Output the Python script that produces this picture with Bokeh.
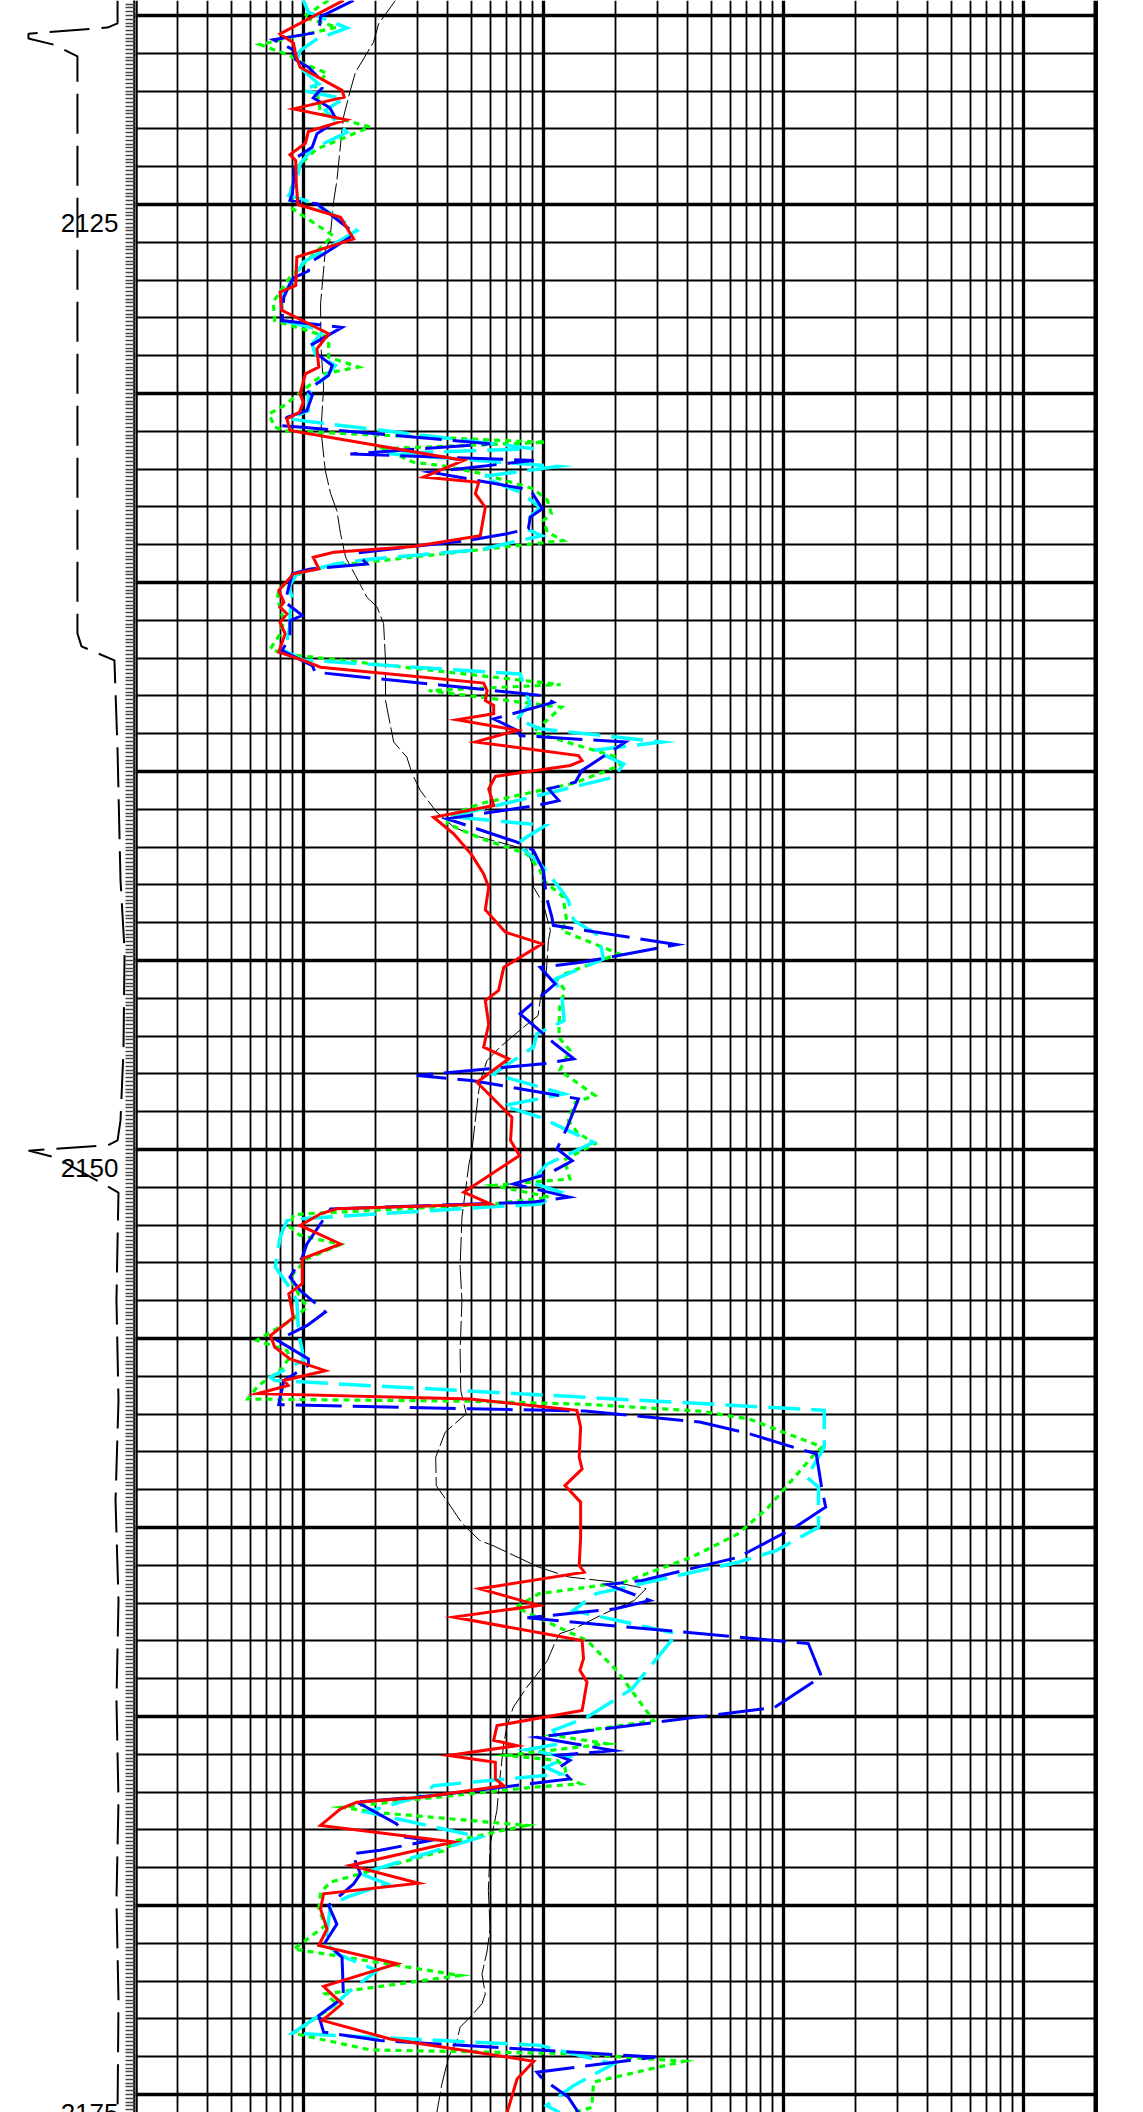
import numpy as np
from bokeh.plotting import figure
from bokeh.layouts import row
from bokeh.models import Range1d, FixedTicker, Span
from bokeh.core.properties import value
from bokeh.embed import file_html
from bokeh.resources import INLINE

# ---------------- data (depth in m, resistivity in ohm.m) ----------------
RED_DEPTH = [2119.60, 2120.49, 2120.73, 2121.10, 2121.37, 2121.98, 2122.16, 2122.47, 2122.76, 2123.07,
             2123.38, 2123.68, 2123.84, 2124.45, 2125.00, 2125.34, 2125.91, 2126.39, 2127.14, 2127.32,
             2127.80, 2128.42, 2128.82, 2129.30, 2129.48, 2130.01, 2130.23, 2130.49, 2130.67, 2130.98,
             2131.77, 2132.21, 2132.35, 2132.65, 2133.01, 2133.76, 2134.05, 2134.20, 2134.33, 2134.64,
             2134.77, 2135.21, 2135.52, 2135.65, 2135.83, 2136.05, 2136.36, 2136.84, 2137.06, 2137.24,
             2137.66, 2137.86, 2138.12, 2138.25, 2138.47, 2138.63, 2138.91, 2139.22, 2139.58, 2139.71,
             2139.84, 2140.13, 2140.46, 2140.90, 2141.21, 2141.65, 2142.18, 2142.71, 2143.06, 2143.66,
             2144.25, 2144.56, 2145.18, 2145.79, 2146.06, 2146.68, 2147.29, 2147.60, 2148.22, 2149.15,
             2149.76, 2150.16, 2151.13, 2151.44, 2151.57, 2151.70, 2152.01, 2152.50, 2152.89, 2153.55,
             2153.82, 2154.44, 2154.92, 2155.23, 2155.54, 2155.85, 2156.11, 2156.24, 2156.46, 2156.60,
             2156.90, 2157.35, 2158.14, 2158.45, 2158.89, 2159.33, 2160.26, 2161.00, 2161.18, 2161.62,
             2162.06, 2162.37, 2162.99, 2163.47, 2163.78, 2164.09, 2164.84, 2165.24, 2165.63, 2165.77,
             2166.03, 2166.21, 2166.65, 2166.83, 2167.13, 2167.27, 2167.44, 2167.88, 2168.32, 2168.94,
             2169.41, 2169.69, 2170.09, 2170.62, 2171.06, 2171.54, 2172.14, 2172.60, 2173.04, 2173.53,
             2174.12, 2174.59, 2175.48]
RED_VAL = [1.47, 0.80, 0.91, 0.935, 0.97, 1.45, 1.48, 0.91, 1.51, 1.05,
           1.02, 0.88, 0.93, 0.935, 0.95, 1.43, 1.62, 0.94, 0.93, 0.80,
           0.815, 1.275, 1.14, 1.16, 1.02, 0.97, 1.00, 0.965, 0.855, 0.88,
           4.66, 3.17, 5.38, 5.21, 5.73, 5.46, 2.88, 1.34, 1.10, 1.16,
           0.91, 0.79, 0.83, 0.80, 0.855, 0.80, 0.84, 0.79, 1.00, 1.18,
           5.64, 5.83, 5.73, 6.21, 6.21, 4.37, 7.77, 5.21, 14.0, 14.5,
           12.96, 6.31, 5.92, 6.21, 3.49, 4.23, 5.0, 5.64, 5.92, 5.73,
           6.95, 9.87, 6.84, 6.51, 5.73, 5.92, 5.64, 7.17, 5.29, 7.40,
           7.30, 7.95, 4.66, 6.01, 1.38, 1.18, 0.97, 1.43, 0.99, 0.99,
           0.87, 0.91, 0.73, 0.76, 0.88, 1.235, 0.83, 0.865, 0.645, 4.95,
           13.8, 14.3, 14.1, 14.5, 12.3, 14.3, 14.3, 14.1, 14.8, 5.42,
           9.58, 4.23, 14.5, 14.7, 14.2, 15.2, 14.5, 6.41, 6.21, 7.77,
           4.03, 6.31, 6.31, 6.84, 3.17, 1.67, 1.43, 1.18, 4.23, 1.57,
           3.02, 1.215, 1.18, 1.255, 1.16, 2.46, 1.215, 1.45, 1.20, 2.30,
           9.12, 7.77, 7.06]

BLUE_DEPTH = [2119.60, 2120.03, 2120.44, 2120.64, 2120.91, 2121.17, 2121.37, 2121.70, 2121.91, 2122.18,
              2122.44, 2122.78, 2123.13, 2123.48, 2123.77, 2124.72, 2124.89, 2124.98, 2125.78, 2126.53,
              2126.76, 2126.94, 2127.10, 2127.45, 2128.07, 2128.25, 2128.73, 2128.95, 2129.26, 2129.52,
              2129.92, 2130.05, 2130.45, 2130.63, 2130.85, 2130.89, 2131.33, 2131.60, 2131.77, 2132.08,
              2132.55, 2133.05, 2133.27, 2133.58, 2133.71, 2133.89, 2134.22, 2134.51, 2134.64, 2134.77,
              2135.12, 2135.52, 2135.87, 2136.01, 2136.36, 2136.58, 2136.80, 2137.20, 2137.37, 2137.46,
              2137.99, 2138.17, 2138.61, 2138.91, 2139.05, 2139.22, 2139.97, 2140.28, 2140.46, 2140.77,
              2140.90, 2141.25, 2141.87, 2142.09, 2142.62, 2143.32, 2143.85, 2144.07, 2144.58, 2145.04,
              2145.18, 2145.62, 2146.41, 2147.21, 2147.60, 2147.73, 2148.04, 2148.18, 2148.66, 2149.45,
              2149.98, 2150.30, 2150.64, 2150.91, 2151.26, 2151.39, 2151.57, 2152.50, 2152.85, 2153.38,
              2153.73, 2153.91, 2154.30, 2154.66, 2154.79, 2155.05, 2155.54, 2155.71, 2156.11, 2156.75,
              2156.86, 2156.92, 2157.21, 2157.52, 2157.92, 2158.05, 2159.02, 2159.46, 2159.99, 2160.79,
              2161.40, 2161.51, 2161.93, 2162.15, 2162.39, 2163.07, 2163.94, 2164.76, 2165.55, 2165.90,
              2166.03, 2166.16, 2166.34, 2166.65, 2167.09, 2167.27, 2167.31, 2167.84, 2168.19, 2168.28,
              2168.54, 2168.63, 2169.16, 2169.43, 2170.00, 2170.49, 2170.97, 2171.37, 2172.43, 2172.91,
              2173.35, 2173.57, 2174.01, 2174.41, 2174.58, 2175.07, 2175.48]
BLUE_VAL = [1.62, 1.18, 1.16, 0.75, 0.91, 0.93, 1.05, 1.18, 1.20, 1.10,
            1.29, 1.38, 1.14, 1.09, 0.93, 0.90, 0.88, 1.14, 1.65, 1.07,
            1.05, 0.91, 0.88, 0.83, 0.815, 1.45, 1.07, 1.14, 1.32, 1.275,
            1.035, 1.09, 1.035, 0.855, 0.80, 0.99, 6.01, 1.57, 9.12, 3.39,
            8.82, 9.9, 8.82, 8.66, 7.06, 4.8, 1.67, 1.84, 1.07, 0.90,
            0.87, 0.84, 0.99, 0.88, 0.88, 0.855, 0.815, 1.09, 1.12, 1.52,
            9.87, 11.0, 6.21, 7.77, 8.0, 22.0, 14.5, 13.6, 10.5, 11.6,
            9.4, 3.97, 7.77, 9.1, 10.0, 10.3, 10.85, 11.0, 36.0, 14.7,
            9.7, 11.2, 8.0, 11.2, 13.4, 10.0, 2.97, 5.1, 14.0, 12.5,
            11.4, 13.2, 10.5, 7.5, 12.8, 9.1, 1.30, 1.035, 0.99, 0.88,
            0.97, 1.05, 1.235, 1.035, 0.94, 0.78, 1.05, 1.05, 0.83, 0.79,
            4.95, 14.9, 44.8, 72.2, 116, 137, 145, 150, 112, 64.7,
            25.8, 18.5, 27.8, 20.0, 8.58, 127, 144, 91.7, 9.4, 19.6,
            11.4, 12.9, 11.7, 12.9, 3.49, 1.62, 1.73, 2.45, 2.66, 3.38,
            2.09, 1.60, 1.73, 1.62, 1.275, 1.38, 1.235, 1.45, 1.47, 1.16,
            1.215, 2.09, 29.3, 9.4, 9.9, 12.7, 14.0]

CYAN_DEPTH = [2119.60, 2119.91, 2120.33, 2120.62, 2120.93, 2121.28, 2121.81, 2121.98, 2122.20, 2122.51,
              2122.78, 2123.09, 2123.53, 2123.92, 2124.37, 2124.76, 2124.89, 2125.25, 2125.69, 2126.53,
              2127.10, 2127.45, 2128.07, 2128.33, 2128.69, 2128.95, 2129.26, 2129.52, 2130.01, 2130.45,
              2130.67, 2130.74, 2131.46, 2131.59, 2131.93, 2132.20, 2132.61, 2133.01, 2133.27, 2133.58,
              2133.76, 2134.13, 2134.39, 2134.51, 2134.77, 2135.12, 2135.39, 2135.83, 2136.14, 2136.53,
              2136.80, 2137.05, 2137.42, 2138.21, 2138.61, 2138.87, 2139.22, 2139.44, 2139.80, 2140.15,
              2140.77, 2141.19, 2141.43, 2141.74, 2141.91, 2142.44, 2143.15, 2143.41, 2143.94, 2144.34,
              2144.96, 2145.49, 2146.06, 2146.59, 2146.94, 2147.29, 2148.00, 2148.53, 2148.84, 2149.15,
              2149.81, 2150.20, 2150.38, 2150.86, 2151.13, 2151.44, 2151.83, 2151.88, 2152.32, 2153.11,
              2153.55, 2154.00, 2154.83, 2155.32, 2155.58, 2156.02, 2156.11, 2156.90, 2157.87, 2158.67,
              2158.93, 2159.99, 2160.61, 2160.92, 2161.75, 2162.20, 2162.81, 2164.27, 2165.02, 2165.37,
              2165.72, 2165.88, 2166.08, 2166.34, 2166.52, 2166.83, 2167.09, 2167.53, 2168.19, 2169.16,
              2169.43, 2169.78, 2170.00, 2170.97, 2171.28, 2171.72, 2172.25, 2172.65, 2173.38, 2173.70,
              2174.19, 2174.76, 2175.29, 2175.48]
CYAN_VAL = [1.00, 1.05, 1.52, 1.14, 0.97, 0.93, 1.16, 0.99, 1.47, 1.235,
            1.36, 1.52, 1.09, 0.97, 0.94, 0.87, 1.02, 1.32, 1.67, 1.00,
            0.88, 0.815, 0.815, 1.215, 1.09, 1.12, 1.36, 1.255, 1.05, 1.05,
            0.88, 1.05, 9.12, 2.23, 11.4, 5.55, 8.0, 9.7, 8.8, 8.5,
            9.85, 5.46, 1.84, 1.36, 0.94, 0.87, 0.90, 0.88, 0.88, 0.855,
            0.83, 1.00, 8.0, 8.8, 7.77, 9.7, 31.0, 16.2, 21.6, 19.7,
            7.77, 4.1, 10.2, 8.5, 7.77, 9.7, 11.9, 12.7, 13.4, 17.0,
            17.8, 11.2, 12.0, 12.2, 9.4, 9.1, 6.2, 12.2, 6.8, 9.7,
            16.2, 12.0, 10.4, 8.8, 11.8, 9.7, 0.97, 0.855, 0.80, 0.765,
            0.855, 0.94, 0.955, 0.99, 1.00, 0.73, 0.76, 148, 148, 125,
            140, 140, 93.3, 64.7, 16.6, 13.3, 36.0, 23.4, 15.2, 11.0,
            11.8, 8.5, 12.7, 10.2, 11.8, 3.49, 3.12, 1.84, 5.46, 1.73,
            2.23, 1.52, 1.30, 1.235, 1.38, 2.03, 1.57, 1.34, 0.90, 9.7,
            19.6, 13.4, 10.3, 11.7]

GREEN_DEPTH = [2119.60, 2120.04, 2120.31, 2120.77, 2121.06, 2121.23, 2121.53, 2121.85, 2122.25, 2122.60,
               2122.95, 2123.53, 2124.01, 2124.72, 2125.11, 2125.82, 2126.92, 2127.58, 2128.07, 2128.51,
               2129.04, 2129.30, 2129.48, 2130.01, 2130.32, 2130.54, 2130.89, 2130.99, 2131.29, 2131.46,
               2131.82, 2131.90, 2132.11, 2132.52, 2132.83, 2133.18, 2133.36, 2133.67, 2133.89, 2134.59,
               2134.73, 2135.17, 2135.43, 2136.01, 2136.36, 2136.75, 2136.89, 2137.70, 2137.86, 2138.30,
               2138.96, 2139.62, 2139.84, 2140.31, 2140.50, 2140.85, 2141.16, 2141.38, 2141.78, 2142.18,
               2142.62, 2142.88, 2143.32, 2143.94, 2144.21, 2144.82, 2145.35, 2145.49, 2145.79, 2146.23,
               2147.03, 2147.38, 2147.91, 2148.57, 2148.75, 2149.23, 2149.54, 2149.85, 2150.29, 2150.47,
               2150.78, 2150.95, 2151.26, 2151.44, 2151.72, 2152.05, 2152.27, 2152.51, 2152.89, 2153.38,
               2153.82, 2154.17, 2154.48, 2155.05, 2155.32, 2155.49, 2155.85, 2156.24, 2156.60, 2156.66,
               2156.74, 2156.92, 2157.13, 2157.87, 2158.10, 2159.46, 2160.17, 2160.78, 2161.45, 2161.75,
               2162.11, 2162.99, 2163.78, 2165.11, 2165.50, 2165.72, 2166.03, 2166.16, 2166.34, 2166.61,
               2166.78, 2166.87, 2167.40, 2167.53, 2167.88, 2168.28, 2168.55, 2169.38, 2169.65, 2170.09,
               2170.53, 2170.97, 2171.15, 2171.85, 2172.34, 2172.60, 2173.38, 2173.82, 2173.92, 2174.12,
               2174.67, 2175.34, 2175.48]
GREEN_VAL = [1.27, 1.00, 1.38, 0.66, 0.88, 0.97, 1.255, 1.12, 1.16, 1.18,
             1.90, 1.14, 0.94, 0.88, 0.90, 1.33, 0.88, 0.75, 0.76, 1.275,
             1.275, 1.70, 1.215, 0.955, 0.83, 0.72, 0.76, 0.84, 10.2, 2.16,
             2.88, 3.72, 5.46, 9.1, 10.4, 10.8, 10.0, 10.4, 12.1, 1.215,
             0.99, 0.79, 0.78, 0.83, 0.80, 0.73, 0.83, 11.8, 3.33, 11.9,
             9.1, 20.3, 20.9, 13.4, 9.7, 5.46, 4.1, 3.97, 5.55, 8.55,
             9.7, 10.0, 12.1, 12.5, 11.9, 20.6, 12.3, 11.4, 12.3, 11.7,
             11.6, 12.9, 11.7, 16.4, 13.6, 12.7, 13.8, 16.4, 12.1, 12.5,
             12.9, 6.2, 10.6, 6.2, 0.91, 0.88, 0.97, 1.43, 1.035, 0.88,
             0.955, 1.035, 0.91, 0.64, 0.855, 0.88, 0.80, 0.65, 0.588, 4.95,
             14.9, 44.8, 72.0, 145, 133, 86.7, 64.7, 41.6, 21.5, 9.6,
             7.69, 15.2, 20.2, 28.8, 11.0, 18.4, 7.06, 11.4, 12.3, 12.5,
             14.3, 9.1, 1.45, 1.96, 8.5, 4.37, 3.84, 1.30, 1.18, 1.16,
             1.235, 1.00, 0.91, 4.5, 1.235, 1.38, 0.91, 1.90, 13.4, 38.5,
             16.2, 15.9, 13.4]

BLACK_DEPTH = [2119.60, 2120.22, 2120.71, 2121.50, 2121.98, 2122.69, 2123.40, 2124.37, 2124.89, 2125.95,
               2126.22, 2127.63, 2128.77, 2129.83, 2130.98, 2132.04, 2132.65, 2133.10, 2133.71, 2134.33,
               2134.82, 2135.39, 2135.65, 2136.09, 2137.06, 2138.12, 2138.56, 2139.22, 2139.62, 2140.06,
               2140.50, 2141.08, 2141.47, 2141.69, 2141.83, 2142.07, 2142.44, 2143.06, 2143.50, 2144.21,
               2144.47, 2145.26, 2146.06, 2146.46, 2146.76, 2147.29, 2147.65, 2148.18, 2148.53, 2149.59,
               2150.03, 2150.38, 2151.79, 2153.11, 2153.99, 2155.32, 2156.38, 2156.99, 2157.48, 2158.14,
               2158.89, 2159.37, 2159.90, 2160.34, 2160.48, 2161.05, 2161.31, 2161.45, 2161.62, 2161.93,
               2162.28, 2162.68, 2162.81, 2163.03, 2163.52, 2164.00, 2164.22, 2164.75, 2165.24, 2165.72,
               2166.60, 2167.49, 2168.37, 2169.60, 2170.62, 2171.23, 2171.81, 2172.34, 2172.60, 2172.95,
               2173.22, 2173.57, 2174.01, 2174.72, 2175.48]
BLACK_VAL = [2.42, 2.06, 1.96, 1.65, 1.57, 1.47, 1.43, 1.38, 1.34, 1.29,
             1.235, 1.18, 1.185, 1.215, 1.185, 1.235, 1.30, 1.38, 1.43, 1.50,
             1.65, 1.84, 2.03, 2.16, 2.20, 2.20, 2.27, 2.38, 2.70, 2.84,
             3.07, 3.60, 4.23, 5.13, 6.20, 8.55, 8.97, 9.10, 10.0, 10.7,
             10.5, 10.3, 9.7, 9.5, 8.28, 6.6, 5.82, 5.47, 5.36, 5.13,
             5.04, 4.9, 4.58, 4.50, 4.58, 4.50, 4.53, 4.77, 3.90, 3.56,
             3.58, 4.04, 4.60, 5.42, 6.17, 9.58, 12.8, 20.0, 26.8, 23.9,
             17.9, 13.4, 11.7, 11.2, 10.4, 9.1, 8.55, 7.5, 7.06, 6.84,
             6.6, 6.4, 6.01, 5.9, 6.0, 5.82, 5.55, 5.73, 5.55, 4.96,
             4.5, 4.37, 4.03, 3.78, 3.6]

# curve of the depth track (linear scale 6 .. 16)
CAL_DEPTH = [2119.60, 2120.21, 2120.32, 2120.48, 2120.61, 2120.77, 2121.08, 2136.35, 2136.69, 2137.06,
             2139.44, 2142.88, 2144.74, 2147.38, 2149.23, 2149.76, 2149.89, 2150.03, 2150.21, 2150.87,
             2151.14, 2152.41, 2153.99, 2156.64, 2159.29, 2161.93, 2164.58, 2167.22, 2169.87, 2172.51,
             2175.48]
CAL_VAL = [14.67, 14.67, 13.93, 8.07, 8.07, 9.93, 11.70, 11.70, 12.00, 14.44,
           14.67, 14.89, 15.19, 15.11, 14.89, 14.67, 13.93, 8.07, 10.07, 13.41,
           14.74, 14.67, 14.59, 14.74, 14.52, 14.74, 14.59, 14.74, 14.59, 14.74,
           14.67]

DEPTH_LABELS = [2125, 2150, 2175]
X_DECADES = [1, 10, 100, 1000]
X_MINOR = [m * 10.0 ** e for e in range(-1, 3) for m in range(2, 10)]
Y_MAJOR = list(range(2120, 2180, 5))
Y_MINOR = list(range(2119, 2177))
Y_TICKS_01 = [round(v, 1) for v in np.arange(2119.6, 2175.55, 0.1)]

# ---------------- layout constants ----------------
D_TOP, D_BOTTOM = 2119.603, 2175.476
X_LO, X_HI = 0.2, 2053.5
CAL_LO, CAL_HI = 6.0, 16.0
FRAME_H = 2112

# ---------------- depth track ----------------
dep = figure(frame_width=135, frame_height=FRAME_H, x_range=Range1d(CAL_LO, CAL_HI),
             y_range=Range1d(D_BOTTOM, D_TOP), x_axis_location=None, y_axis_location="right",
             toolbar_location=None, output_backend="svg", min_border=0,
             outline_line_color=None)
dep.grid.visible = False
ax = dep.yaxis[0]
ax.ticker = FixedTicker(ticks=[], minor_ticks=Y_TICKS_01)
ax.major_label_standoff = 0
ax.major_tick_out = 0
ax.minor_tick_out = 0
ax.major_tick_in = 10
ax.minor_tick_in = 10
ax.major_tick_line_color = "#444444"
ax.minor_tick_line_color = "#444444"
ax.major_tick_line_width = 1.5
ax.minor_tick_line_width = 1.5
ax.axis_line_width = 4.5
ax.axis_line_color = "black"

dep.text(x=[CAL_HI] * len(DEPTH_LABELS), y=DEPTH_LABELS, text=[str(d) for d in DEPTH_LABELS],
         text_align="right", text_baseline="middle", x_offset=-17, y_offset=18,
         text_font=value("Liberation Sans"), text_font_size="26px", text_color="black")
dep.line(CAL_VAL, CAL_DEPTH, line_color="black", line_width=2, line_dash="40 12")

# ---------------- main (log) track ----------------
p = figure(frame_width=963, frame_height=FRAME_H, x_axis_type="log",
           x_range=Range1d(X_LO, X_HI), y_range=Range1d(D_BOTTOM, D_TOP),
           x_axis_location=None, y_axis_location=None,
           toolbar_location=None, output_backend="svg", min_border=0,
           outline_line_color=None)
p.xgrid.ticker = FixedTicker(ticks=X_DECADES, minor_ticks=X_MINOR)
p.xgrid.grid_line_color = "black"
p.xgrid.grid_line_width = 3.3
p.xgrid.grid_line_alpha = 1
p.xgrid.minor_grid_line_color = "black"
p.xgrid.minor_grid_line_width = 1.8
p.ygrid.ticker = FixedTicker(ticks=Y_MAJOR, minor_ticks=Y_MINOR)
p.ygrid.grid_line_color = "black"
p.ygrid.grid_line_width = 3.3
p.ygrid.grid_line_alpha = 1
p.ygrid.minor_grid_line_color = "black"
p.ygrid.minor_grid_line_width = 1.8

p.add_layout(Span(location=X_LO, dimension="height", line_color="black", line_width=4.5))
p.add_layout(Span(location=2000, dimension="height", line_color="black", line_width=4.5))

p.line(BLACK_VAL, BLACK_DEPTH, line_color="black", line_width=1, line_dash="24 4")
p.line(GREEN_VAL, GREEN_DEPTH, line_color="#00ff00", line_width=3.2, line_dash="6 5", line_join="miter")
p.line(CYAN_VAL, CYAN_DEPTH, line_color="#00ffff", line_width=3.5, line_dash="32 11", line_join="miter")
p.line(BLUE_VAL, BLUE_DEPTH, line_color="#0000ff", line_width=3, line_dash="46 11", line_join="miter")
p.line(RED_VAL, RED_DEPTH, line_color="#ff0000", line_width=3, line_join="miter")

layout = row(dep, p)
open("out.html", "w").write(file_html(layout, INLINE))
